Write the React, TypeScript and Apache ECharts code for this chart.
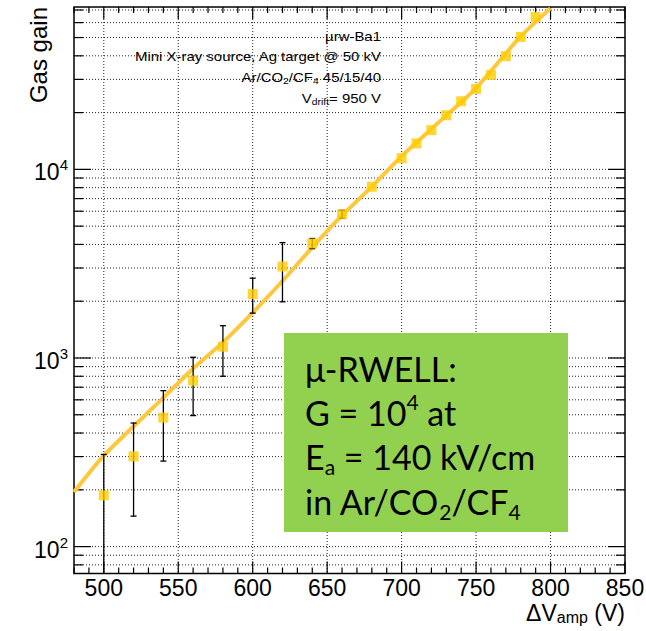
import React, { useEffect, useRef } from 'react';
import * as echarts from 'echarts';

// ---- data ----
const voltages = [500, 520, 540, 560, 580, 600, 620, 640, 660, 680, 700, 710, 720, 730, 740, 750, 760, 770, 780, 790];
const gains = [187, 301, 483, 758, 1148, 2181, 3055, 4045, 5781, 8091, 11470, 13727, 16140, 19370, 22970, 26710, 31700, 39800, 50400, 64300];
// error bars that are visible outside the markers (null: hidden behind the marker)
const gainErrHigh = [308, 452, 671, 1009, 1483, 2650, 4091, 4300, 6070, null, null, null, null, null, null, null, null, null, null, null];
const gainErrLow = [60, 145, 284, 495, 800, 1729, 1986, 3800, 5510, null, null, null, null, null, null, null, null, null, null, null];

const fitVoltages = [480, 500, 538, 560, 580, 600, 620, 640, 660, 680, 700, 720, 750, 779, 800];
const fitGains = [195, 304, 594, 880, 1210, 1740, 2560, 3860, 5700, 8100, 11760, 16400, 27000, 49800, 71600];

const xTickLabels = [500, 550, 600, 650, 700, 750, 800, 850];
const yTickLabels = [100, 1000, 10000];

const X_MIN = 480;
const X_MAX = 850;
const Y_MIN = 72;
const Y_MAX = 72600;

const FONT = '"Liberation Sans", Arial, Helvetica, sans-serif';
const BOX_FONT = 'Lato, "Open Sans", sans-serif';

// gridline values at 1..9 x 10^n inside the axis range
const yGridValues: { v: number; major: boolean }[] = [];
for (let e = 1; e <= 4; e++) {
  for (let m = 1; m <= 9; m++) {
    const v = m * Math.pow(10, e);
    if (v > Y_MIN && v < Y_MAX) yGridValues.push({ v, major: m === 1 });
  }
}
const xTickValues: { v: number; major: boolean }[] = [];
for (let v = X_MIN; v <= X_MAX; v += 10) {
  xTickValues.push({ v, major: v % 50 === 0 });
}

export default function App() {
  const ref = useRef<HTMLDivElement>(null);

  useEffect(() => {
    document.body.style.margin = '0';
    if (!ref.current) return;
    const chart = echarts.init(ref.current, null, { renderer: 'svg' });

    const renderFrame = (params: any, api: any) => {
      const cs = params.coordSys;
      const left = cs.x;
      const top = cs.y;
      const right = cs.x + cs.width;
      const bottom = cs.y + cs.height;
      const children: any[] = [];
      const dotted = { stroke: '#222', lineWidth: 1, lineDash: [1, 2] };
      const solid = { stroke: '#000', lineWidth: 1.2 };
      xTickValues.forEach(({ v, major }) => {
        const px = api.coord([v, Y_MIN])[0];
        if (major && v > X_MIN && v < X_MAX) {
          children.push({ type: 'line', shape: { x1: px, y1: top, x2: px, y2: bottom }, style: dotted });
        }
        const len = major ? 12 : 6;
        children.push({ type: 'line', shape: { x1: px, y1: bottom, x2: px, y2: bottom - len }, style: solid });
        children.push({ type: 'line', shape: { x1: px, y1: top, x2: px, y2: top + len }, style: solid });
      });
      yGridValues.forEach(({ v, major }) => {
        const py = api.coord([X_MIN, v])[1];
        children.push({ type: 'line', shape: { x1: left, y1: py, x2: right, y2: py }, style: dotted });
        const len = major ? 17 : 9;
        children.push({ type: 'line', shape: { x1: left, y1: py, x2: left + len, y2: py }, style: solid });
        children.push({ type: 'line', shape: { x1: right, y1: py, x2: right - len, y2: py }, style: solid });
      });
      children.push({
        type: 'rect',
        shape: { x: left, y: top, width: right - left, height: bottom - top },
        style: { fill: 'none', stroke: '#000', lineWidth: 1.5 },
      });
      return { type: 'group', children };
    };

    const renderErrors = (params: any, api: any) => {
      const x = api.value(0);
      const lo = api.value(1);
      const hi = api.value(2);
      const loC = Math.max(lo, Y_MIN);
      const pHi = api.coord([x, hi]);
      const pLo = api.coord([x, loC]);
      const style = { stroke: '#000', lineWidth: 1.3 };
      const children: any[] = [
        { type: 'line', shape: { x1: pHi[0], y1: pHi[1], x2: pLo[0], y2: pLo[1] }, style },
        { type: 'line', shape: { x1: pHi[0] - 3, y1: pHi[1], x2: pHi[0] + 3, y2: pHi[1] }, style },
      ];
      if (lo >= Y_MIN) {
        children.push({ type: 'line', shape: { x1: pLo[0] - 3, y1: pLo[1], x2: pLo[0] + 3, y2: pLo[1] }, style });
      }
      return { type: 'group', children };
    };

    const subRich = (size: number, subSize: number, lh: number, subLh: number) => ({
      n: { fontFamily: FONT, fontSize: size, fill: '#000', lineHeight: lh },
      s: { fontFamily: FONT, fontSize: subSize, fill: '#000', lineHeight: subLh, verticalAlign: 'bottom' },
    });

    const errorData = voltages
      .map((v, i) => [v, gainErrLow[i], gainErrHigh[i]])
      .filter((d) => d[1] != null && d[2] != null);

    const option: any = {
      animation: false,
      grid: { left: 74, top: 7, right: 21, bottom: 57.5, containLabel: false, outerBoundsMode: 'none' },
      xAxis: {
        type: 'value',
        min: X_MIN,
        max: X_MAX,
        interval: 10,
        axisLine: { show: false },
        axisTick: { show: false },
        splitLine: { show: false },
        axisLabel: {
          interval: 0,
          showMinLabel: true,
          showMaxLabel: true,
          formatter: (v: number) => (xTickLabels.includes(Math.round(v)) ? String(Math.round(v)) : ''),
          fontFamily: FONT,
          fontSize: 23,
          lineHeight: 23,
          color: '#000',
          margin: 3,
        },
      },
      yAxis: {
        type: 'log',
        logBase: 10,
        min: Y_MIN,
        max: Y_MAX,
        axisLine: { show: false },
        axisTick: { show: false },
        splitLine: { show: false },
        axisLabel: {
          showMinLabel: false,
          showMaxLabel: false,
          margin: 6,
          formatter: (v: number) => {
            const hit = yTickLabels.find((t) => Math.abs(Math.log10(v) - Math.log10(t)) < 1e-6);
            if (!hit) return '';
            return `{b|10}{s|${Math.round(Math.log10(hit))}}`;
          },
          rich: {
            b: { fontFamily: FONT, fontSize: 23, color: '#000', lineHeight: 24, padding: [6, 0, 0, 0] },
            s: { fontFamily: FONT, fontSize: 15, color: '#000', lineHeight: 20, verticalAlign: 'top' },
          },
        },
      },
      series: [
        {
          type: 'custom',
          name: 'frame',
          z: 1,
          silent: true,
          data: [[X_MIN, Y_MIN]],
          renderItem: renderFrame,
        },
        {
          type: 'line',
          name: 'fit',
          z: 3,
          data: fitVoltages.map((v, i) => [v, fitGains[i]]),
          showSymbol: false,
          smooth: 0.2,
          clip: true,
          lineStyle: { color: '#FFC83C', width: 4 },
          silent: true,
        },
        {
          type: 'custom',
          name: 'errors',
          z: 4,
          silent: true,
          data: errorData,
          encode: { x: 0, y: [1, 2] },
          renderItem: renderErrors,
        },
        {
          type: 'scatter',
          name: 'gain',
          z: 5,
          symbol: 'rect',
          symbolSize: 10,
          itemStyle: { color: '#FFCC00' },
          data: voltages.map((v, i) => [v, gains[i]]),
          silent: true,
        },
      ],
      graphic: [
        {
          type: 'text',
          x: 38,
          y: 7,
          rotation: Math.PI / 2,
          z: 100,
          style: { text: 'Gas gain', fontFamily: FONT, fontSize: 24, fill: '#000', align: 'right', verticalAlign: 'middle' },
        },
        {
          type: 'text',
          x: 625,
          y: 613,
          z: 100,
          style: {
            text: '{n|ΔV}{s|amp}{n| (V)}',
            align: 'right',
            verticalAlign: 'middle',
            rich: subRich(23, 16, 24, 8),
          },
        },
        // info text
        {
          type: 'text', x: 381, y: 36, scaleX: 1.15, z: 100,
          style: { text: 'µrw-Ba1', fontFamily: FONT, fontSize: 13, fill: '#000', align: 'right', verticalAlign: 'middle' },
        },
        {
          type: 'text', x: 381, y: 56, scaleX: 1.15, z: 100,
          style: { text: 'Mini X-ray source, Ag target @ 50 kV', fontFamily: FONT, fontSize: 13, fill: '#000', align: 'right', verticalAlign: 'middle' },
        },
        {
          type: 'text', x: 381, y: 77, scaleX: 1.15, z: 100,
          style: {
            text: '{n|Ar/CO}{s|2}{n|/CF}{s|4}{n| 45/15/40}',
            align: 'right',
            verticalAlign: 'middle',
            rich: subRich(13, 9, 16, 10),
          },
        },
        {
          type: 'text', x: 381, y: 98, scaleX: 1.15, z: 100,
          style: {
            text: '{n|V}{s|drift}{n|= 950 V}',
            align: 'right',
            verticalAlign: 'middle',
            rich: subRich(13, 9, 16, 10),
          },
        },
        // green annotation box
        {
          type: 'rect',
          z: 100,
          shape: { x: 284, y: 333, width: 284, height: 199 },
          style: { fill: '#92D050' },
        },
        {
          type: 'text', x: 305, y: 368, z: 101,
          style: { text: 'μ-RWELL:', fontFamily: BOX_FONT, fontSize: 34, fill: '#000', align: 'left', verticalAlign: 'middle' },
        },
        {
          type: 'text', x: 305, y: 412, z: 101,
          style: {
            text: '{n|G = 10}{p|4}{n| at}',
            align: 'left',
            verticalAlign: 'middle',
            rich: {
              n: { fontFamily: BOX_FONT, fontSize: 34, fill: '#000', lineHeight: 42 },
              p: { fontFamily: BOX_FONT, fontSize: 21, fill: '#000', lineHeight: 22, verticalAlign: 'top' },
            },
          },
        },
        {
          type: 'text', x: 305, y: 456, z: 101,
          style: {
            text: '{n|E}{b|a}{n| = 140 kV/cm}',
            align: 'left',
            verticalAlign: 'middle',
            rich: {
              n: { fontFamily: BOX_FONT, fontSize: 34, fill: '#000', lineHeight: 42 },
              b: { fontFamily: BOX_FONT, fontSize: 21, fill: '#000', lineHeight: 17, verticalAlign: 'bottom' },
            },
          },
        },
        {
          type: 'text', x: 305, y: 501, z: 101,
          style: {
            text: '{n|in Ar/CO}{b|2}{n|/CF}{b|4}',
            align: 'left',
            verticalAlign: 'middle',
            rich: {
              n: { fontFamily: BOX_FONT, fontSize: 34, fill: '#000', lineHeight: 42 },
              b: { fontFamily: BOX_FONT, fontSize: 21, fill: '#000', lineHeight: 17, verticalAlign: 'bottom' },
            },
          },
        },
      ],
    };

    chart.setOption(option);
    return () => {
      chart.dispose();
    };
  }, []);

  return <div ref={ref} style={{ width: 646, height: 631 }} />;
}
